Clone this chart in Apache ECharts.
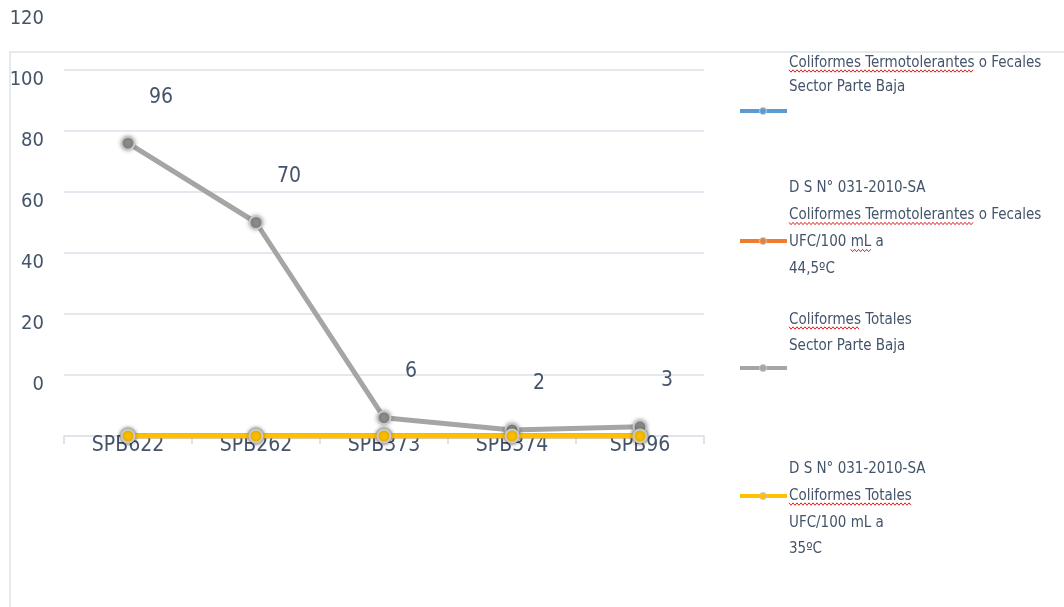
<!DOCTYPE html>
<html><head><meta charset="utf-8">
<script src="https://cdn.jsdelivr.net/npm/echarts@6/dist/echarts.min.js"></script>
<style>html,body{margin:0;padding:0;background:#fff}#c{width:1064px;height:607px}</style>
</head><body><div id="c"></div>
<script>
// ---- data ----
const categories = ['SPB622', 'SPB262', 'SPB373', 'SPB374', 'SPB96'];
const fecalesParteBaja = [0, 0, 0, 0, 0];
const fecalesLimite = [0, 0, 0, 0, 0];
const totalesParteBaja = [96, 70, 6, 2, 3];
const totalesLimite = [0, 0, 0, 0, 0];
// labels printed at the value-axis ticks 0,20,...,140 (the original shows them shifted by one step)
const yTickLabels = ['', '0', '20', '40', '60', '80', '100', '120'];
const legendTexts = [
  ['Coliformes Termotolerantes o Fecales', 'Sector Parte Baja'],
  ['D S N° 031-2010-SA', 'Coliformes Termotolerantes o Fecales', 'UFC/100 mL a', '44,5ºC'],
  ['Coliformes Totales', 'Sector Parte Baja'],
  ['D S N° 031-2010-SA', 'Coliformes Totales', 'UFC/100 mL a', '35ºC']
];
// words flagged with a red wavy underline: [legend entry, line, start text, underlined text]
const spellMarks = [
  [0, 0, '', 'Coliformes Termotolerantes'],
  [1, 1, '', 'Coliformes Termotolerantes'],
  [1, 2, 'UFC/100 ', 'mL'],
  [2, 0, '', 'Coliformes'],
  [3, 1, '', 'Coliformes Totales']
];

// ---- styles / layout ----
const FONT = "'DejaVu Sans Condensed', 'Liberation Sans Narrow', sans-serif";
const TXT = '#44546A';
const colors = ['#5B9BD5', '#ED7D31', '#A5A5A5', '#FFC000'];
const LEG_X = 789, LEG_FS = 15;
const legendLayout = [
  {top: 51, lh: 24, iconY: 111},
  {top: 175, lh: 27, iconY: 241},
  {top: 307, lh: 26, iconY: 368},
  {top: 456, lh: 26.7, iconY: 496}
];

const ctx = document.createElement('canvas').getContext('2d');
ctx.font = LEG_FS + 'px ' + FONT;
function tw(s) { return ctx.measureText(s).width; }

function wave(x0, x1, y) {
  const pts = [];
  let up = true;
  for (let x = x0; x <= x1; x += 2) { pts.push([x, up ? y - 1.2 : y + 1.2]); up = !up; }
  return pts;
}

const graphic = [{
  type: 'rect', silent: true, z: -1,
  shape: {x: 10, y: 52, width: 1100, height: 600},
  style: {fill: 'none', stroke: '#DEE3EA', lineWidth: 1.5}
}];
legendTexts.forEach((lines, i) => {
  const L = legendLayout[i];
  graphic.push({
    type: 'text', left: LEG_X, top: L.top,
    style: {text: lines.join('\n'), font: LEG_FS + 'px ' + FONT, fill: TXT, lineHeight: L.lh}
  });
  graphic.push({
    type: 'line', shape: {x1: 740, y1: L.iconY, x2: 787, y2: L.iconY},
    style: {stroke: colors[i], lineWidth: 4}
  });
  graphic.push({
    type: 'circle', shape: {cx: 763, cy: L.iconY, r: 3.5},
    style: {fill: colors[i], stroke: '#c8c8c8', lineWidth: 1}
  });
});
spellMarks.forEach(m => {
  const L = legendLayout[m[0]];
  const x0 = LEG_X + tw(m[2]);
  const x1 = x0 + tw(m[3]);
  const y = L.top + L.lh * (m[1] + 0.5) + 8;
  graphic.push({
    type: 'polyline', shape: {points: wave(x0, x1, y)},
    style: {stroke: '#E02020', lineWidth: 1, fill: 'none'}
  });
});

function lineSeries(name, data, color, z, labels) {
  return {
    name, type: 'line', data, z,
    symbol: 'circle', symbolSize: 13,
    lineStyle: {color, width: 5},
    itemStyle: {color: color === '#A5A5A5' ? '#8C8C8C' : color, borderColor: '#C9C9C9', borderWidth: 2,
      shadowColor: 'rgba(0,0,0,0.25)', shadowBlur: 4},
    label: labels ? {show: true, position: 'top', align: 'left', offset: [21, -23],
      fontFamily: FONT, fontSize: 21, color: TXT} : {show: false},
    emphasis: {disabled: true}
  };
}

const chart = echarts.init(document.getElementById('c'));
chart.setOption({
  animation: false,
  backgroundColor: '#fff',
  grid: {left: 64, right: 360, top: 9, bottom: 171, containLabel: false},
  xAxis: {
    type: 'category', data: categories, boundaryGap: true,
    axisLine: {lineStyle: {color: '#D5DCE6', width: 1.5}},
    axisTick: {show: true, length: 8, lineStyle: {color: '#D5DCE6', width: 1.5}},
    axisLabel: {margin: -1, fontFamily: FONT, fontSize: 21, color: TXT, verticalAlign: 'top'}
  },
  yAxis: {
    type: 'value', min: 0, max: 140, interval: 20,
    axisLine: {show: false}, axisTick: {show: false},
    splitLine: {lineStyle: {width: 1.5,
      color: ['transparent', '#DCE2EA', '#DCE2EA', '#DCE2EA', '#DCE2EA', '#DCE2EA', '#DCE2EA', 'transparent']}},
    axisLabel: {margin: 20, fontFamily: FONT, fontSize: 20, color: TXT, verticalAlign: 'top',
      formatter: (v) => yTickLabels[Math.round(v / 20)]}
  },
  graphic,
  series: [
    lineSeries(legendTexts[0].join(' '), fecalesParteBaja, colors[0], 2, false),
    lineSeries(legendTexts[1].join(' '), fecalesLimite, colors[1], 3, false),
    lineSeries(legendTexts[2].join(' '), totalesParteBaja, colors[2], 4, true),
    lineSeries(legendTexts[3].join(' '), totalesLimite, colors[3], 5, false)
  ]
});
</script></body></html>
